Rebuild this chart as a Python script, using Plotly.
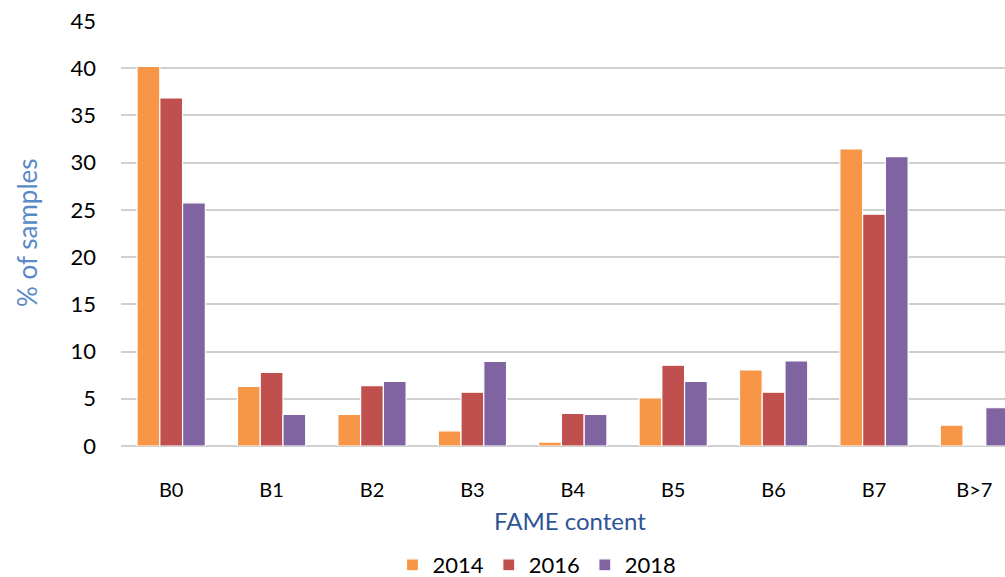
import plotly.graph_objects as go

categories = ["B0", "B1", "B2", "B3", "B4", "B5", "B6", "B7", "B>7"]
values_2014 = [40.2, 6.3, 3.35, 1.6, 0.42, 5.1, 8.05, 31.45, 2.2]
values_2016 = [36.85, 7.8, 6.4, 5.7, 3.46, 8.55, 5.7, 24.55, 0]
values_2018 = [25.75, 3.35, 6.85, 8.95, 3.35, 6.85, 9.0, 30.65, 4.05]
series_names = ["2014", "2016", "2018"]
colors = ["#F79646", "#C0504D", "#8064A2"]

FONT = "Lato, Carlito, Calibri, 'Liberation Sans', sans-serif"

fig = go.Figure()
for name, vals, col in zip(series_names, [values_2014, values_2016, values_2018], colors):
    fig.add_trace(go.Bar(
        x=categories, y=vals, name=name,
        marker=dict(color=col, line=dict(color="white", width=1.2)),
    ))

W, H = 1005, 577
L, R, T, B = 121, 0, 21, 131
pw = W - L - R
ph = H - T - B

fig.update_layout(
    width=W, height=H,
    margin=dict(l=L, r=R, t=T, b=B, autoexpand=False),
    paper_bgcolor="white", plot_bgcolor="white",
    barmode="group", bargap=0.32, bargroupgap=0.0,
    font=dict(family=FONT, size=21, color="#000000"),
    showlegend=True,
    legend=dict(
        orientation="h", x=(537 - L) / pw, xanchor="center",
        y=(T + ph - 565) / ph, yanchor="middle",
        font=dict(size=22, color="#000000"),
        itemwidth=30, tracegroupgap=0,
    ),
)

fig.update_xaxes(
    type="category", range=[-0.5, -0.5 + pw / 100.4],
    showgrid=False, showline=False, ticks="", automargin=False,
    tickfont=dict(size=20, color="#000000"),
    ticklabelstandoff=30,
)
fig.update_yaxes(
    range=[0, 45], dtick=5, tick0=0, automargin=False,
    showgrid=True, gridcolor="#D0D0D0", gridwidth=1.5,
    zeroline=True, zerolinecolor="#D0D0D0", zerolinewidth=1.5,
    showline=False, ticks="",
    tickfont=dict(size=22, color="#000000"),
    ticklabelstandoff=24,
)

fig.add_annotation(
    text="% of samples", xref="paper", yref="paper",
    x=(27 - L) / pw, y=(T + ph - 233) / ph, textangle=-90,
    xanchor="center", yanchor="middle", showarrow=False,
    font=dict(size=26, color="#5A8AC6"),
)
fig.add_annotation(
    text="FAME content", xref="paper", yref="paper",
    x=(570 - L) / pw, y=(T + ph - 520) / ph,
    xanchor="center", yanchor="middle", showarrow=False,
    font=dict(size=24, color="#2E5496"),
)

fig.write_html(
    "out.html",
    config={"displayModeBar": False},
    post_script="document.body.style.margin='0';document.body.style.overflow='hidden';",
)
